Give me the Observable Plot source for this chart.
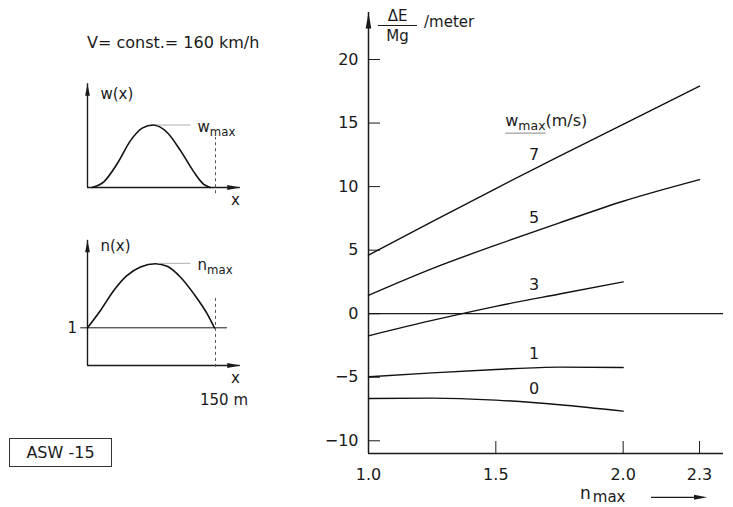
<!DOCTYPE html>
<html><head><meta charset="utf-8">
<script src="https://cdn.jsdelivr.net/npm/d3@7"></script>
<script src="https://cdn.jsdelivr.net/npm/@observablehq/plot@0.6"></script>
<style>
body{margin:0;background:#fff;font-family:"DejaVu Sans",sans-serif;color:#1a1a1a}
#wrap{position:relative;width:733px;height:507px;overflow:hidden;background:#fff}
#wrap > svg{position:absolute;left:0;top:0}
.ann{position:absolute;white-space:nowrap;line-height:1;color:#1a1a1a}
</style></head><body><div id="wrap"></div><script>
// ---------- main chart data ----------
const nMax = [1.0, 1.25, 1.5, 1.75, 2.0, 2.3];          // n_max
const wmaxLevels = [7, 5, 3, 1, 0];                      // w_max (m/s)
const dE_w7 = [4.6, 7.25, 9.85, 12.4, 14.9, 17.9];       // ΔE/Mg (m)
const dE_w5 = [1.45, 3.55, 5.4, 7.15, 8.85, 10.55];
const dE_w3 = [-1.74, -0.53, 0.58, 1.55, 2.5];
const dE_w1 = [-4.97, -4.66, -4.39, -4.2, -4.23];
const dE_w0 = [-6.67, -6.64, -6.8, -7.16, -7.67];
const xTicks = [1.0, 1.5, 2.0, 2.3];
const yTicks = [-10, -5, 0, 5, 10, 15, 20];
const xDomain = [1.0, 2.394];
const yDomain = [-11, 23.7];
const labelN = 1.65;
const headerText = "w_max(m/s)";
const headerPos = {n: 1.537, dE: 15.2};

// ---------- schematic data ----------
const gustX = [5.5, 19.1, 34.8, 50.4, 64.1, 77, 93.4, 109, 124.6, 136.3, 144]; // x (m)
const gustW = [0, 0.09, 0.38, 0.75, 0.95, 1.0, 0.88, 0.59, 0.25, 0.05, 0];     // w / w_max
const loadX = [0, 15.2, 30.8, 46.5, 62.1, 79.7, 93.4, 109, 124.6, 140.3, 148.8];
const loadN = [1.0, 1.46, 1.99, 2.39, 2.61, 2.70, 2.63, 2.34, 1.90, 1.37, 1.0];
const gustLength = 150; // m

const series = [dE_w7, dE_w5, dE_w3, dE_w1, dE_w0];
const rows = series.flatMap((vals, k) => vals.map((v, i) => ({w: wmaxLevels[k], n: nMax[i], dE: v})));
function interp(vals, n) {
  for (let i = 0; i < vals.length - 1; i++) {
    if (n >= nMax[i] && n <= nMax[i + 1]) {
      const t = (n - nMax[i]) / (nMax[i + 1] - nMax[i]);
      return vals[i] + t * (vals[i + 1] - vals[i]);
    }
  }
  return vals[vals.length - 1];
}
const labelRows = series.map((vals, k) => ({w: String(wmaxLevels[k]), n: labelN, dE: interp(vals, labelN)}));

const ink = "#1a1a1a";
const arrowUp = (L, W) => ({draw(c) { c.moveTo(0, 0); c.lineTo(-W, L); c.lineTo(W, L); c.closePath(); }});
const arrowRight = (L, W) => ({draw(c) { c.moveTo(0, 0); c.lineTo(-L, -W); c.lineTo(-L, W); c.closePath(); }});

function subscriptify(svg) {
  d3.select(svg).selectAll("text").each(function () {
    if (this.querySelector("tspan")) return;
    const m = this.textContent.match(/^(.*?)_([a-z]+)(.*)$/);
    if (!m) return;
    const s = d3.select(this); s.text(null);
    s.append("tspan").text(m[1]);
    s.append("tspan").attr("font-size", "0.78em").attr("dy", 4).text(m[2]);
    if (m[3]) s.append("tspan").attr("dy", -4).text(m[3]);
  });
}

const baseStyle = {fontFamily: "DejaVu Sans, sans-serif", fontSize: "16px", color: ink, background: "transparent", overflow: "visible"};

// ---------- main chart ----------
const main = Plot.plot({
  width: 733, height: 507,
  marginLeft: 368, marginRight: 10, marginTop: 12, marginBottom: 54,
  x: {domain: xDomain},
  y: {domain: yDomain},
  style: baseStyle,
  marks: [
    Plot.ruleY([0], {stroke: ink, strokeWidth: 1.2}),
    Plot.ruleX([xDomain[0]], {stroke: ink, strokeWidth: 1.5}),
    Plot.ruleY([yDomain[0]], {stroke: ink, strokeWidth: 1.5}),
    Plot.dot([{x: xDomain[0], y: yDomain[1]}], {x: "x", y: "y", symbol: arrowUp(16, 2.8), fill: ink, stroke: null}),
    Plot.axisY({ticks: yTicks, tickSize: -12, tickPadding: 22, fontSize: 16, label: null, stroke: ink}),
    Plot.axisX({ticks: xTicks, tickSize: -12, tickPadding: 27, tickFormat: d3.format(".1f"), fontSize: 16, label: null, stroke: ink}),
    Plot.line(rows, {x: "n", y: "dE", z: "w", curve: "monotone-x", stroke: "#111", strokeWidth: 1.4}),
    Plot.text(labelRows, {x: "n", y: "dE", text: "w", dy: -14, fontSize: 16, fill: ink}),
    Plot.text([headerPos], {x: "n", y: "dE", text: () => headerText, textAnchor: "start", fontSize: 16, fill: ink})
  ]
});

// ---------- gust schematic w(x) ----------
const gust = Plot.plot({
  width: 733, height: 507,
  x: {domain: [0, gustLength], range: [87, 215], axis: null},
  y: {domain: [0, 1], range: [187, 124.5], axis: null},
  style: {...baseStyle, fontSize: "15px"},
  marks: [
    Plot.ruleX([0], {y1: 0, y2: 1.66, stroke: ink, strokeWidth: 1.4}),
    Plot.ruleY([0], {x1: 0, x2: 179, stroke: ink, strokeWidth: 1.4}),
    Plot.dot([{x: 0, y: 1.66}], {x: "x", y: "y", symbol: arrowUp(12, 2.4), fill: ink, stroke: null}),
    Plot.dot([{x: 179, y: 0}], {x: "x", y: "y", symbol: arrowRight(13, 2.4), fill: ink, stroke: null}),
    Plot.line(gustX.map((x, i) => ({x, y: gustW[i]})), {x: "x", y: "y", curve: "monotone-x", stroke: "#111", strokeWidth: 1.6}),
    Plot.ruleY([1], {x1: 82, x2: 121, stroke: "#999", strokeWidth: 0.8}),
    Plot.ruleX([gustLength], {y1: -0.1, y2: 0.8, stroke: "#555", strokeWidth: 1, strokeDasharray: "3,3"}),
    Plot.text([{x: 15.2, y: 1.5, t: "w(x)"}], {x: "x", y: "y", text: "t", textAnchor: "start", fill: ink}),
    Plot.text([{x: 129, y: 0.96, t: "w_max"}], {x: "x", y: "y", text: "t", textAnchor: "start", fill: ink}),
    Plot.text([{x: 173.4, y: -0.21, t: "x"}], {x: "x", y: "y", text: "t", fill: ink})
  ]
});

// ---------- load factor schematic n(x) ----------
const load = Plot.plot({
  width: 733, height: 507,
  x: {domain: [0, gustLength], range: [87, 215], axis: null},
  y: {domain: [0, 1], range: [365, 327.3], axis: null},
  style: {...baseStyle, fontSize: "15px"},
  marks: [
    Plot.ruleX([0], {y1: 0, y2: 3.32, stroke: ink, strokeWidth: 1.4}),
    Plot.ruleY([0], {x1: 0, x2: 179, stroke: ink, strokeWidth: 1.4}),
    Plot.ruleY([1], {x1: -8, x2: 164, stroke: ink, strokeWidth: 1}),
    Plot.dot([{x: 0, y: 3.32}], {x: "x", y: "y", symbol: arrowUp(12, 2.4), fill: ink, stroke: null}),
    Plot.dot([{x: 179, y: 0}], {x: "x", y: "y", symbol: arrowRight(13, 2.4), fill: ink, stroke: null}),
    Plot.line(loadX.map((x, i) => ({x, y: loadN[i]})), {x: "x", y: "y", curve: "monotone-x", stroke: "#111", strokeWidth: 1.6}),
    Plot.ruleY([2.71], {x1: 83, x2: 121, stroke: "#999", strokeWidth: 0.8}),
    Plot.ruleX([gustLength], {y1: -0.05, y2: 1.81, stroke: "#555", strokeWidth: 1, strokeDasharray: "3,3"}),
    Plot.text([{x: 15.2, y: 3.16, t: "n(x)"}], {x: "x", y: "y", text: "t", textAnchor: "start", fill: ink}),
    Plot.text([{x: 129, y: 2.65, t: "n_max"}], {x: "x", y: "y", text: "t", textAnchor: "start", fill: ink}),
    Plot.text([{x: -17.9, y: 0.98, t: "1"}], {x: "x", y: "y", text: "t", fill: ink}),
    Plot.text([{x: 173.4, y: -0.345, t: "x"}], {x: "x", y: "y", text: "t", fill: ink}),
    Plot.text([{x: 160, y: -0.93, t: "150 m"}], {x: "x", y: "y", text: "t", fill: ink})
  ]
});

const wrap = document.getElementById("wrap");
for (const svg of [main, gust, load]) { subscriptify(svg); wrap.appendChild(svg); }

// underline under "w max" of the legend header
d3.select(main).selectAll("text").each(function () {
  if (this.textContent !== "wmax(m/s)") return;
  try {
    const x0 = this.getStartPositionOfChar(0).x;
    const x1 = this.getStartPositionOfChar(4).x;
    const bb = this.getBBox();
    d3.select(this.parentNode).append("line")
      .attr("transform", this.getAttribute("transform"))
      .attr("x1", x0).attr("x2", x1)
      .attr("y1", bb.y + bb.height + 0.5).attr("y2", bb.y + bb.height + 0.5)
      .attr("stroke", "#888").attr("stroke-width", 1);
  } catch (e) {}
});

// ---------- annotations ----------
wrap.insertAdjacentHTML("beforeend", `
<div class="ann" style="left:87px;top:35px;font-size:16px">V= const.= 160 km/h</div>
<div class="ann" style="left:378px;top:9px;font-size:15px;width:39px;text-align:center">
  <div style="border-bottom:1px solid ${ink};padding-bottom:1px">ΔE</div>
  <div style="padding-top:3px">Mg</div>
</div>
<div class="ann" style="left:424px;top:15px;font-size:15px">/meter</div>
<div class="ann" style="left:580px;top:485px;font-size:17px">n<span style="font-size:15px;position:relative;top:3px;margin-left:2px">max</span></div>
<svg style="position:absolute;left:651px;top:490px" width="60" height="14">
  <line x1="0" y1="7.3" x2="46" y2="7.3" stroke="${ink}" stroke-width="1.2"/>
  <polygon points="56,7.3 43,4.8 43,9.8" fill="${ink}"/>
</svg>
<div class="ann" style="left:9px;top:438px;width:101px;height:27px;border:1px solid #333;font-size:16px;display:flex;align-items:center;justify-content:center">ASW -15</div>
`);
</script></body></html>
